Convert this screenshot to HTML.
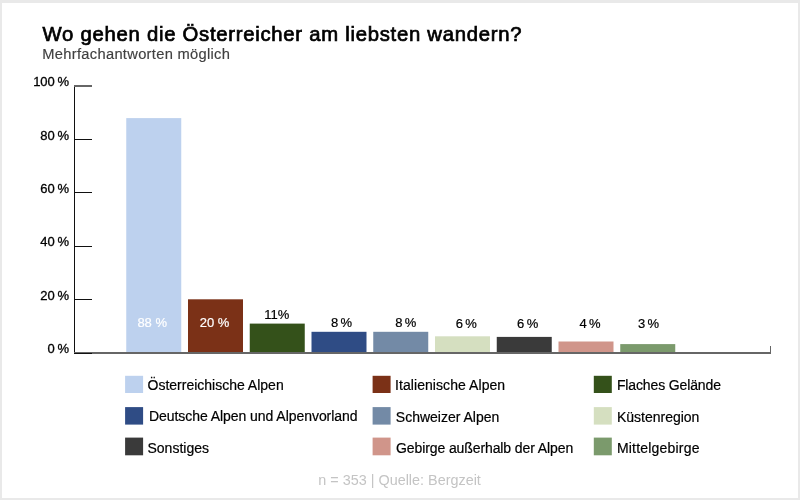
<!DOCTYPE html>
<html lang="de"><head><meta charset="utf-8"><title>Wo gehen die Österreicher am liebsten wandern?</title>
<style>
html,body{margin:0;padding:0;}
body{width:800px;height:500px;background:#e9e9e9;position:relative;overflow:hidden;font-family:"Liberation Sans",sans-serif;}
#card{position:absolute;left:2px;top:3px;width:796px;height:495px;background:#fff;}
.t{position:absolute;white-space:nowrap;line-height:1;}
#title{left:42.6px;top:23.8px;font-size:20.3px;color:#000;letter-spacing:0.73px;-webkit-text-stroke:0.7px #000;}
#sub{left:42.3px;top:47px;font-size:14.7px;color:#404040;letter-spacing:0.3px;-webkit-text-stroke:0.15px #404040;}
.yl{right:731px;font-size:13px;color:#000;text-align:right;word-spacing:-1px;-webkit-text-stroke:0.3px #000;}
.bar{position:absolute;}
.dl{font-size:13px;color:#000;-webkit-text-stroke:0.2px #000;}
.dl.in{-webkit-text-stroke:0.2px #fff;}
.dl.in{color:#fff;}
.ln{position:absolute;background:#111;z-index:2;}
.sw{position:absolute;width:18px;height:18px;}
.lg{font-size:14px;color:#000;-webkit-text-stroke:0.2px #000;}
#foot{left:318.3px;top:472.5px;font-size:14.4px;color:#c4c4c4;transform-origin:0 0;}
</style></head><body><div id="card"></div>
<div class="t" id="title">Wo gehen die Österreicher am liebsten wandern?</div>
<div class="t" id="sub">Mehrfachantworten möglich</div>

<svg id="bars" width="800" height="500" viewBox="0 0 800 500" style="position:absolute;left:0;top:0;"><rect x="126.25" y="118.10" width="55" height="234.90" fill="#bdd1ee"/><rect x="188.00" y="299.30" width="55" height="53.70" fill="#7b3117"/><rect x="249.75" y="323.60" width="55" height="29.40" fill="#34511a"/><rect x="311.50" y="331.80" width="55" height="21.20" fill="#2f4c85"/><rect x="373.25" y="331.80" width="55" height="21.20" fill="#738aa6"/><rect x="435.00" y="336.30" width="55" height="16.70" fill="#d5dfc0"/><rect x="496.75" y="336.90" width="55" height="16.10" fill="#3a3a3a"/><rect x="558.50" y="341.50" width="55" height="11.50" fill="#d0958a"/><rect x="620.25" y="344.10" width="55" height="8.90" fill="#7b9a6c"/></svg>
<svg id="legend" width="800" height="500" viewBox="0 0 800 500" style="position:absolute;left:0;top:0;"><rect x="125.1" y="375.8" width="18" height="17.2" fill="#bdd1ee"/><rect x="372.6" y="375.8" width="18" height="17.2" fill="#7b3117"/><rect x="593.8" y="375.8" width="18" height="17.2" fill="#34511a"/><rect x="125.1" y="407.1" width="18" height="17.5" fill="#2f4c85"/><rect x="372.6" y="407.1" width="18" height="17.5" fill="#738aa6"/><rect x="593.8" y="407.1" width="18" height="17.5" fill="#d5dfc0"/><rect x="125.1" y="437.6" width="18" height="17.7" fill="#3a3a3a"/><rect x="372.6" y="437.6" width="18" height="17.7" fill="#d0958a"/><rect x="593.8" y="437.6" width="18" height="17.7" fill="#7b9a6c"/></svg>
<div class="ln" style="left:74px;top:86px;width:1px;height:268px;"></div>
<div class="ln" style="left:74px;top:352px;width:697px;height:2px;background:#666;"></div>
<div class="ln" style="left:770px;top:346px;width:1px;height:7px;background:#666;"></div>
<div class="ln" style="left:74px;top:352.5px;width:18px;height:1px;background:#111;"></div>
<div class="t yl" id="yl0" style="top:342.1px;">0 %</div>
<div class="ln" style="left:74px;top:299.1px;width:18px;height:1px;background:#111;"></div>
<div class="t yl" id="yl1" style="top:288.7px;">20 %</div>
<div class="ln" style="left:74px;top:245.7px;width:18px;height:1px;background:#111;"></div>
<div class="t yl" id="yl2" style="top:235.3px;">40 %</div>
<div class="ln" style="left:74px;top:192.3px;width:18px;height:1px;background:#111;"></div>
<div class="t yl" id="yl3" style="top:181.9px;">60 %</div>
<div class="ln" style="left:74px;top:138.9px;width:18px;height:1px;background:#111;"></div>
<div class="t yl" id="yl4" style="top:128.5px;">80 %</div>
<div class="ln" style="left:74px;top:85.0px;width:18px;height:2px;background:#666;"></div>
<div class="t yl" id="yl5" style="top:75.1px;">100 %</div>
<div class="t dl in" id="d0" style="left:137.4px;top:315.7px;">88 %</div>
<div class="t dl in" id="d1" style="left:199.8px;top:315.7px;">20 %</div>
<div class="t dl" id="d2" style="left:264.2px;top:307.6px;">11%</div>
<div class="t dl" id="d3" style="left:331.0px;top:315.8px;word-spacing:-1.3px;">8 %</div>
<div class="t dl" id="d4" style="left:395.2px;top:315.8px;word-spacing:-1.3px;">8 %</div>
<div class="t dl" id="d5" style="left:455.8px;top:317.2px;word-spacing:-1.3px;">6 %</div>
<div class="t dl" id="d6" style="left:517.1px;top:317.2px;word-spacing:-1.3px;">6 %</div>
<div class="t dl" id="d7" style="left:579.4px;top:317.3px;word-spacing:-1.3px;">4 %</div>
<div class="t dl" id="d8" style="left:637.9px;top:317.3px;word-spacing:-1.3px;">3 %</div>
<div class="t lg" id="l0" style="left:147.5px;top:378.1px;">Österreichische Alpen</div>
<div class="t lg" id="l1" style="left:395.0px;top:378.1px;letter-spacing:0.07px;">Italienische Alpen</div>
<div class="t lg" id="l2" style="left:616.9px;top:378.1px;letter-spacing:-0.13px;">Flaches Gelände</div>
<div class="t lg" id="l3" style="left:148.9px;top:409.4px;letter-spacing:-0.05px;">Deutsche Alpen und Alpenvorland</div>
<div class="t lg" id="l4" style="left:395.8px;top:410.0px;">Schweizer Alpen</div>
<div class="t lg" id="l5" style="left:616.9px;top:409.5px;">Küstenregion</div>
<div class="t lg" id="l6" style="left:147.5px;top:440.9px;">Sonstiges</div>
<div class="t lg" id="l7" style="left:396.0px;top:440.9px;letter-spacing:-0.1px;">Gebirge außerhalb der Alpen</div>
<div class="t lg" id="l8" style="left:616.9px;top:440.9px;letter-spacing:0.2px;">Mittelgebirge</div>
<div class="t" id="foot">n = 353 | Quelle: Bergzeit</div>
</body></html>
